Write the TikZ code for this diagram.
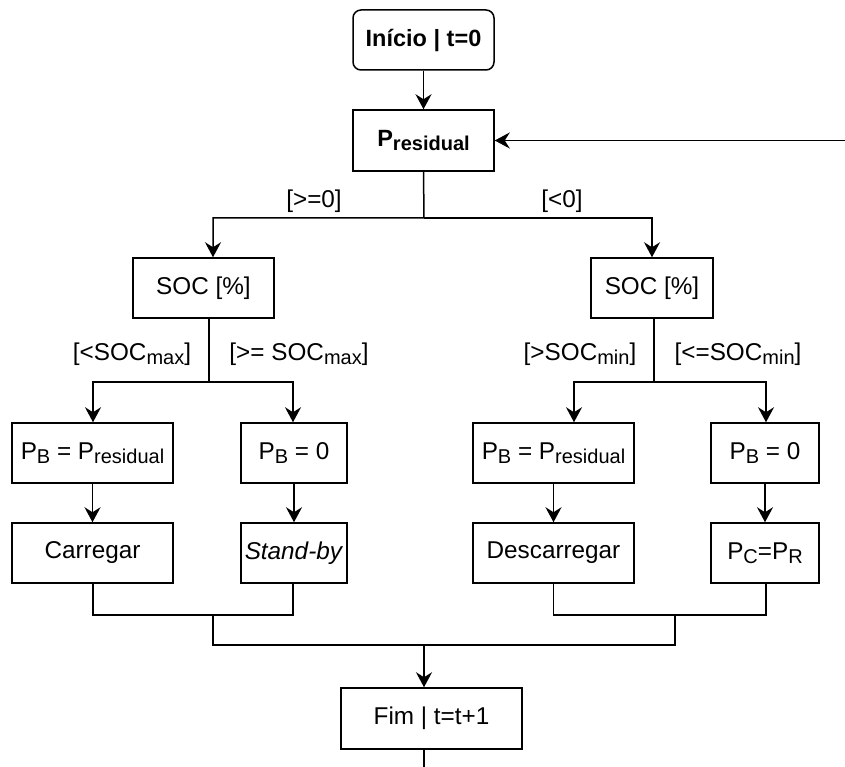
\documentclass[tikz,border=0pt]{standalone}
\usepackage{fontspec}
\setmainfont{Liberation Sans}
\usetikzlibrary{arrows.meta}
% lowered, smaller text for indices such as P_residual
\newcommand\lowsub[1]{\raisebox{-4pt}{\fontsize{20}{20}\selectfont #1}}

\begin{document}
\begin{tikzpicture}[x=1pt,y=-1pt,
  every node/.style={font=\fontsize{24.3}{28}\selectfont},
  box/.style={draw, line width=1.5pt, inner sep=0pt, align=center, minimum height=60pt},
  lbl/.style={inner sep=0pt},
  line/.style={line width=1.5pt},
  arr/.style={line, -{Stealth[length=15pt,width=16pt,inset=5pt]}}]
\useasboundingbox (0,0) rectangle (845,767);

% start and residual power
\node[box, rounded corners=8pt, minimum width=141pt, font=\fontsize{23.5}{28}\selectfont\bfseries] (start) at (423.5,40) {Início | t=0};
\node[box, minimum width=141pt, minimum height=61pt, font=\fontsize{23.5}{28}\selectfont\bfseries] (pres) at (423.5,140.5) {P\lowsub{residual}};

% state of charge checks
\node[box, minimum width=141pt] (socL) at (203.5,288) {SOC [\%]};
\node[box, minimum width=122pt] (socR) at (652,288) {SOC [\%]};

% battery power assignment
\node[box, minimum width=161pt] (pbL) at (92.5,453) {P\lowsub{B} = P\lowsub{residual}};
\node[box, minimum width=106pt] (zeroL) at (294,453) {P\lowsub{B} = 0};
\node[box, minimum width=161pt] (pbR) at (553.5,453) {P\lowsub{B} = P\lowsub{residual}};
\node[box, minimum width=108pt] (zeroR) at (765,453) {P\lowsub{B} = 0};

% actions
\node[box, minimum width=161pt] (carL) at (92.5,553) {Carregar};
\node[box, minimum width=106pt] (stbL) at (294,553) {\textit{Stand-by}};
\node[box, minimum width=161pt] (desR) at (553.5,553) {Descarregar};
\node[box, minimum width=108pt] (pcR) at (765,553) {P\lowsub{C}=P\lowsub{R}};

% end of step
\node[box, minimum width=181pt, minimum height=61pt] (fim) at (431.5,718.5) {Fim | t=t+1};

% branch labels
\node[lbl] (lge) at (314,201) {[>=0]};
\node[lbl] (llt) at (562,201) {[<0]};
\node[lbl] (lmaxa) at (132,354) {[<SOC\lowsub{max}]};
\node[lbl] (lmaxb) at (299,354) {[>= SOC\lowsub{max}]};
\node[lbl] (lmina) at (580,354) {[>SOC\lowsub{min}]};
\node[lbl] (lminb) at (738,354) {[<=SOC\lowsub{min}]};

% junction points
\coordinate (fb) at (845,140.5);
\coordinate (j0) at (424,218);
\coordinate (aL) at (213,218);
\coordinate (aR) at (652,218);
\coordinate (bL) at (209,382);
\coordinate (bL1) at (93,382);
\coordinate (bL2) at (293,382);
\coordinate (bR) at (654,382);
\coordinate (bR1) at (574,382);
\coordinate (bR2) at (766,382);
\coordinate (mL) at (213,615);
\coordinate (mR) at (675,615);
\coordinate (mm) at (424,645);
\coordinate (end) at (424,767);

% connectors
\draw[arr] (start) -- (pres);
\draw[arr] (fb) -- (pres.east);
\draw[arr] (pres.south) -- (j0) -- (aL) -- (aL |- socL.north);
\draw[arr] (j0) -- (aR) -- (aR |- socR.north);

\draw[line] (socL.south -| bL) -- (bL);
\draw[arr] (bL) -- (bL1) -- (bL1 |- pbL.north);
\draw[arr] (bL) -- (bL2) -- (bL2 |- zeroL.north);
\draw[line] (socR.south -| bR) -- (bR);
\draw[arr] (bR) -- (bR1) -- (bR1 |- pbR.north);
\draw[arr] (bR) -- (bR2) -- (bR2 |- zeroR.north);

\draw[arr] (pbL) -- (carL);
\draw[arr] (zeroL) -- (stbL);
\draw[arr] (pbR) -- (desR);
\draw[arr] (zeroR) -- (pcR);

\draw[line] (carL.south -| bL1) -- (bL1 |- mL) -- (bL2 |- mL) -- (stbL.south -| bL2);
\draw[line] (desR.south) -- (desR.south |- mR) -- (bR2 |- mR) -- (pcR.south -| bR2);
\draw[line] (mL) -- (mL |- mm) -- (mR |- mm) -- (mR);
\draw[arr] (mm) -- (fim.north -| mm);
\draw[line] (fim.south -| end) -- (end);
\end{tikzpicture}
\end{document}
